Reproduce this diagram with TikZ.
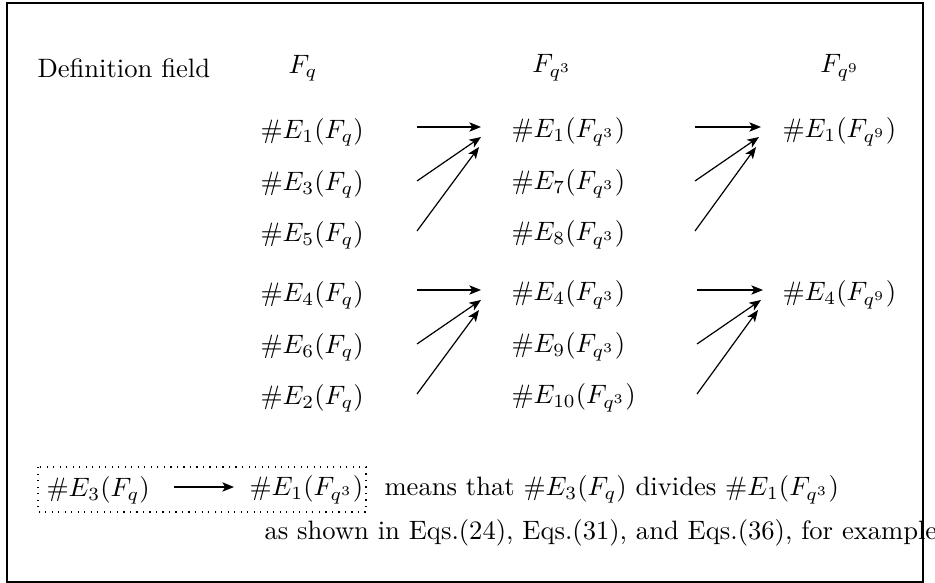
\documentclass[tikz,border=0pt]{standalone}
\usetikzlibrary{arrows.meta}
\begin{document}
\begin{tikzpicture}[x=0.376pt,y=-0.376pt,
  lbl/.style={inner sep=0pt,anchor=west},
  hdr/.style={inner sep=0pt},
  arr/.style={-{Stealth[length=4.4pt,width=3.5pt,inset=1.1pt]},line width=0.45pt}]
\useasboundingbox (0,0) rectangle (935,583);
\draw[line width=0.55pt] (7,3) rectangle (923,582);
% headers
\node[lbl] (deffield) at (37,68) {Definition field};
\node[hdr] (h1) at (303,68) {$F_q$};
\node[hdr] (h2) at (552,68) {$F_{q^3}$};
\node[hdr] (h3) at (840,68) {$F_{q^9}$};
% left column
\node[lbl] (a1) at (260,132) {$\#E_1(F_q)$};
\node[lbl] (a3) at (260,184) {$\#E_3(F_q)$};
\node[lbl] (a5) at (260,235) {$\#E_5(F_q)$};
\node[lbl] (a4) at (260,295) {$\#E_4(F_q)$};
\node[lbl] (a6) at (260,347) {$\#E_6(F_q)$};
\node[lbl] (a2) at (260,398) {$\#E_2(F_q)$};
% middle column
\node[lbl] (b1) at (511,132) {$\#E_1(F_{q^3})$};
\node[lbl] (b7) at (511,184) {$\#E_7(F_{q^3})$};
\node[lbl] (b8) at (511,235) {$\#E_8(F_{q^3})$};
\node[lbl] (b4) at (511,295) {$\#E_4(F_{q^3})$};
\node[lbl] (b9) at (511,347) {$\#E_9(F_{q^3})$};
\node[lbl] (b10) at (511,398) {$\#E_{10}(F_{q^3})$};
% right column
\node[lbl] (c1) at (782,132) {$\#E_1(F_{q^9})$};
\node[lbl] (c4) at (782,295) {$\#E_4(F_{q^9})$};
% arrow end points
\coordinate (p1s) at (417,127); \coordinate (p1e) at (481,127);
\coordinate (p2s) at (417,181); \coordinate (p2e) at (481,137);
\coordinate (p3s) at (417,231); \coordinate (p3e) at (479,147);
\coordinate (q1s) at (417,290); \coordinate (q1e) at (481,290);
\coordinate (q2s) at (417,344); \coordinate (q2e) at (481,300);
\coordinate (q3s) at (417,394); \coordinate (q3e) at (479,310);
\coordinate (r1s) at (695,127); \coordinate (r1e) at (761,127);
\coordinate (r2s) at (695,181); \coordinate (r2e) at (759,137);
\coordinate (r3s) at (695,231); \coordinate (r3e) at (756,147);
\coordinate (s1s) at (697,290); \coordinate (s1e) at (763,290);
\coordinate (s2s) at (697,344); \coordinate (s2e) at (761,300);
\coordinate (s3s) at (697,394); \coordinate (s3e) at (758,310);
\foreach \g in {p,q,r,s}{
  \draw[arr] (\g1s) -- (\g1e);
  \draw[arr] (\g2s) -- (\g2e);
  \draw[arr] (\g3s) -- (\g3e);
}
% legend
\draw[dotted,line width=0.45pt] (38,467) rectangle (366,512);
\node[lbl] (le3) at (46,490) {$\#E_3(F_q)$};
\node[lbl] (le1) at (249,490) {$\#E_1(F_{q^3})$};
\coordinate (ls) at (174,487); \coordinate (le) at (234,487);
\draw[arr] (ls) -- (le);
\node[lbl] (means) at (384,490) {means that $\#E_3(F_q)$ divides $\#E_1(F_{q^3})$};
\node[lbl] (shown) at (264,533) {as shown in Eqs.(24), Eqs.(31), and Eqs.(36), for example};
\end{tikzpicture}
\end{document}
